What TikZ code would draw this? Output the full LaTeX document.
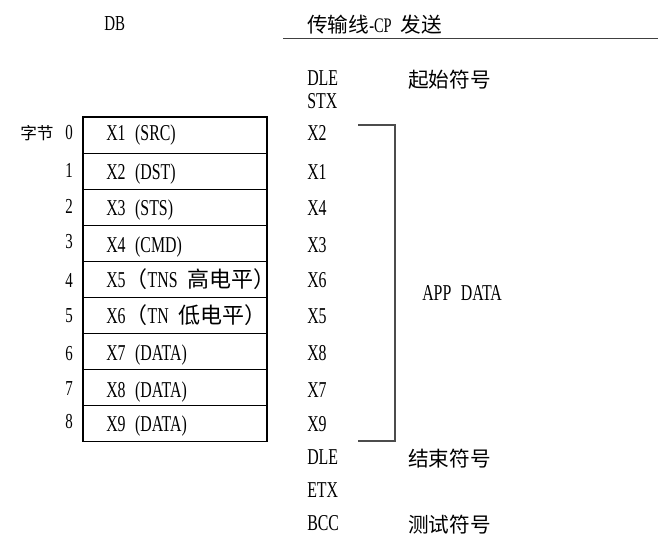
\documentclass[tikz,border=0pt]{standalone}
\usepackage{fontspec}
\setmainfont[FakeStretch=0.7,WordSpace=2.4]{Liberation Serif}
\newfontfamily\cjk{Noto Sans CJK SC}
\begin{document}
\begin{tikzpicture}[x=0.75pt,y=-0.75pt,
  lat/.style={font=\fontsize{17}{20}\selectfont, inner sep=0pt, anchor=base west},
  num/.style={font=\fontsize{16}{18}\selectfont, inner sep=0pt, anchor=base east},
  cj/.style={font=\cjk\fontsize{15.5}{18}\selectfont, inner sep=0pt, anchor=base west},
  cell/.style={draw=black, line width=0.8pt, rectangle, minimum width=138pt, minimum height=27.075pt, inner sep=0pt},
  brack/.style={draw=black!70, line width=0.9pt},
  rule/.style={draw=black!75, line width=0.9pt}]
\useasboundingbox (0,0) rectangle (658,533);

% headers
\node[font=\fontsize{16}{18}\selectfont, inner sep=0pt, anchor=base west] (db) at (104,30) {DB};
\node[font=\fontsize{15.5}{18}\selectfont, inner sep=0pt, anchor=base west] (hdr) at (307,32) {{\cjk\fontsize{15.5}{18}\selectfont 传输线}-CP {\cjk\fontsize{15.5}{18}\selectfont 发送}};
\coordinate (ulA) at (283,38.5);
\coordinate (ulB) at (658,38.5);
\draw[rule] (ulA) -- (ulB);

% table rows
\foreach \i in {0,...,8} {
  \node[cell] (r\i) at (175, {117+36.1*\i+18.05}) {};
}
\node[lat] (l0) at (106,140) {X1 (SRC)};
\node[lat] (l1) at (106,179) {X2 (DST)};
\node[lat] (l2) at (106,215) {X3 (STS)};
\node[lat] (l3) at (106,252) {X4 (CMD)};
\node[lat] (l4) at (106,287) {X5{\cjk\fontsize{16.5}{18}\selectfont （}TNS {\cjk\fontsize{16.5}{18}\selectfont 高电平）}};
\node[lat] (l5) at (106,323) {X6{\cjk\fontsize{16.5}{18}\selectfont （}TN {\cjk\fontsize{16.5}{18}\selectfont 低电平）}};
\node[lat] (l6) at (106,360) {X7 (DATA)};
\node[lat] (l7) at (106,397) {X8 (DATA)};
\node[lat] (l8) at (106,431) {X9 (DATA)};

% byte numbers
\node[font=\cjk\fontsize{12.5}{15}\selectfont, inner sep=0pt, anchor=base west] (zj) at (20,139) {字节};
\node[num] (n0) at (73,139) {0};
\node[num] (n1) at (73,177) {1};
\node[num] (n2) at (73,213) {2};
\node[num] (n3) at (73,248) {3};
\node[num] (n4) at (73,287) {4};
\node[num] (n5) at (73,322) {5};
\node[num] (n6) at (73,360) {6};
\node[num] (n7) at (73,395) {7};
\node[num] (n8) at (73,428) {8};

% transmission column
\node[lat] (t1) at (307,85) {DLE};
\node[lat] (t2) at (307,108) {STX};
\node[lat] (t3) at (307,140) {X2};
\node[lat] (t4) at (307,179) {X1};
\node[lat] (t5) at (307,215) {X4};
\node[lat] (t6) at (307,252) {X3};
\node[lat] (t7) at (307,287) {X6};
\node[lat] (t8) at (307,323) {X5};
\node[lat] (t9) at (307,360) {X8};
\node[lat] (t10) at (307,397) {X7};
\node[lat] (t11) at (307,431) {X9};
\node[lat] (t12) at (307,464) {DLE};
\node[lat] (t13) at (307,497) {ETX};
\node[lat] (t14) at (307,530) {BCC};

\node[cj] (c1) at (408,87) {起始符号};
\node[cj] (c2) at (408,466) {结束符号};
\node[cj] (c3) at (408,532) {测试符号};
\node[lat] (app) at (422,300) {APP DATA};

% bracket
\coordinate (bA) at (358,125);
\coordinate (bB) at (395,125);
\coordinate (bC) at (395,441);
\coordinate (bD) at (358,441);
\draw[brack] (bA) -- (bB) -- (bC) -- (bD);
\end{tikzpicture}
\end{document}
